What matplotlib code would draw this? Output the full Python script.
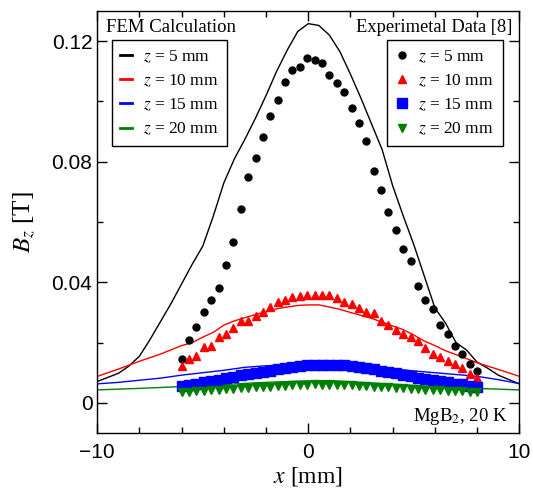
### FEM vs experimental Bz profiles
import matplotlib
matplotlib.use("Agg")
import matplotlib.pyplot as plt
import numpy as np

plt.rcParams['mathtext.fontset'] = 'stix'

### Experimental data (Ref. [8])
x_exp = [-6.00, -5.65, -5.30, -4.95, -4.60, -4.25, -3.90, -3.55, -3.20, -2.85,
         -2.50, -2.15, -1.80, -1.45, -1.10, -0.75, -0.40, -0.05, 0.30, 0.65,
         1.00, 1.35, 1.70, 2.05, 2.40, 2.75, 3.10, 3.45, 3.80, 4.15,
         4.50, 4.85, 5.20, 5.55, 5.90, 6.25, 6.60, 6.95, 7.30, 7.65, 8.00]

exp_z5 = [0.0146, 0.0208, 0.0251, 0.0301, 0.0341, 0.0382, 0.0457, 0.0534, 0.0643, 0.0748,
          0.0813, 0.0883, 0.0953, 0.1004, 0.1063, 0.1103, 0.1113, 0.1143, 0.1139, 0.1128,
          0.1089, 0.1061, 0.1032, 0.0978, 0.0927, 0.0869, 0.0770, 0.0707, 0.0632, 0.0574,
          0.0511, 0.0470, 0.0387, 0.0341, 0.0310, 0.0257, 0.0227, 0.0190, 0.0162, 0.0130, 0.0106]

exp_z10 = [0.0121, 0.0146, 0.0154, 0.0184, 0.0189, 0.0217, 0.0229, 0.0248, 0.0270, 0.0273,
           0.0289, 0.0303, 0.0318, 0.0333, 0.0340, 0.0351, 0.0353, 0.0359, 0.0359, 0.0359,
           0.0357, 0.0349, 0.0333, 0.0329, 0.0314, 0.0300, 0.0298, 0.0272, 0.0259, 0.0242,
           0.0229, 0.0217, 0.0204, 0.0182, 0.0163, 0.0153, 0.0139, 0.0128, 0.0117, 0.0095, 0.0084]

exp_z15 = [0.0056, 0.0060, 0.0064, 0.0068, 0.0072, 0.0077, 0.0082, 0.0087, 0.0092, 0.0097,
           0.0100, 0.0104, 0.0107, 0.0111, 0.0114, 0.0118, 0.0121, 0.0124, 0.0126, 0.0127,
           0.0127, 0.0127, 0.0125, 0.0122, 0.0119, 0.0115, 0.0111, 0.0107, 0.0102, 0.0098,
           0.0093, 0.0089, 0.0084, 0.0080, 0.0075, 0.0071, 0.0068, 0.0064, 0.0061, 0.0057, 0.0053]

exp_z20 = [0.0036, 0.0037, 0.0039, 0.0040, 0.0042, 0.0044, 0.0045, 0.0047, 0.0048, 0.0050,
           0.0051, 0.0053, 0.0054, 0.0055, 0.0057, 0.0058, 0.0059, 0.0060, 0.0061, 0.0060,
           0.0060, 0.0059, 0.0058, 0.0058, 0.0057, 0.0056, 0.0054, 0.0053, 0.0051, 0.0050,
           0.0048, 0.0047, 0.0046, 0.0044, 0.0043, 0.0042, 0.0040, 0.0039, 0.0038, 0.0036, 0.0035]

### FEM calculation
x_fem5 = [-10, -9, -8.5, -8, -7.5, -7, -6.5, -6, -5.5, -5, -4.5, -4, -3.5, -3, -2.5, -2,
          -1.5, -1, -0.5, 0, 0.5, 1, 1.5, 2, 2.5, 3, 3.5, 4, 4.5, 5, 5.5, 6, 6.5, 7,
          7.5, 8, 8.5, 9, 10]
fem_z5 = [0.0071, 0.0098, 0.0122, 0.0155, 0.0210, 0.0270, 0.0330, 0.0395, 0.0460, 0.0520,
          0.0620, 0.0730, 0.0810, 0.0875, 0.0945, 0.1020, 0.1100, 0.1170, 0.1232, 0.1258,
          0.1252, 0.1220, 0.1165, 0.1090, 0.1010, 0.0925, 0.0840, 0.0720, 0.0620, 0.0525,
          0.0420, 0.0315, 0.0265, 0.0200, 0.0175, 0.0135, 0.0115, 0.0092, 0.0063]

x_fem10 = [-10, -9, -8, -7, -6, -5.5, -5, -4.5, -4, -3.5, -3, -2.5, -2, -1.5, -1, -0.5,
           0, 0.5, 1, 1.5, 2, 2.5, 3, 3.5, 4, 4.5, 5, 5.5, 6, 6.5, 7, 7.5, 8, 9, 10]
fem_z10 = [0.0088, 0.0112, 0.0138, 0.0162, 0.0190, 0.0200, 0.0218, 0.0234, 0.0258, 0.0272,
           0.0283, 0.0293, 0.0302, 0.0312, 0.0318, 0.0323, 0.0325, 0.0325, 0.0318, 0.0310,
           0.0300, 0.0290, 0.0280, 0.0268, 0.0255, 0.0243, 0.0225, 0.0205, 0.0190, 0.0173,
           0.0160, 0.0147, 0.0133, 0.0111, 0.0088]

x_fem15 = [-10, -9, -8, -7, -6, -5, -4, -3, -2, -1, 0, 1, 2, 3, 4, 5, 6, 7, 8, 9, 10]
fem_z15 = [0.0063, 0.0068, 0.0075, 0.0082, 0.0092, 0.0100, 0.0108, 0.0118, 0.0123, 0.0127,
           0.0129, 0.0128, 0.0125, 0.0120, 0.0113, 0.0106, 0.0100, 0.0094, 0.0088, 0.0077, 0.0064]

x_fem20 = [-10, -8, -6, -4, -2, 0, 1, 2, 4, 6, 8, 10]
fem_z20 = [0.0043, 0.0048, 0.0054, 0.0061, 0.0068, 0.0073, 0.0074, 0.0070, 0.0062, 0.0054,
           0.0048, 0.0043]

labels = ["$z$ = 5 mm", "$z$ = 10 mm", "$z$ = 15 mm", "$z$ = 20 mm"]
colors = ["black", "red", "blue", "green"]

serif = "Liberation Serif"
sans = "Liberation Sans"

fig = plt.figure(figsize=(5.33, 4.93), dpi=100)
ax = fig.add_axes([0.1825, 0.1217, 0.7918, 0.856])

### FEM lines
fem_lines = []
for xf, yf, c, lab in zip([x_fem5, x_fem10, x_fem15, x_fem20],
                          [fem_z5, fem_z10, fem_z15, fem_z20], colors, labels):
    l, = ax.plot(xf, yf, "-", color=c, lw=1.0, label=lab)
    fem_lines.append(l)

### Experimental markers
exp_pts = []
p, = ax.plot(x_exp, exp_z5, "o", color="black", ms=5, ls="none", label=labels[0])
exp_pts.append(p)
p, = ax.plot(x_exp, exp_z10, "^", color="red", ms=6, ls="none", label=labels[1])
exp_pts.append(p)
p, = ax.plot(x_exp, exp_z15, "s", color="blue", ms=7, ls="none", label=labels[2])
exp_pts.append(p)
p, = ax.plot(x_exp, exp_z20, "v", color="green", ms=6, ls="none", label=labels[3])
exp_pts.append(p)

ax.set_xlim(-10, 10)
ax.set_ylim(-0.01, 0.13)
ax.set_xticks([-10, 0, 10])
ax.set_xticks(np.arange(-10, 11, 2), minor=True)
ax.set_yticks([0, 0.04, 0.08, 0.12])
ax.set_yticklabels(["0", "0.04", "0.08", "0.12"])
ax.set_yticks([0.02, 0.06, 0.10], minor=True)
ax.tick_params(which="both", direction="in", top=True, right=True, width=1)
ax.tick_params(which="major", length=7, labelsize=15)
ax.tick_params(axis="x", which="major", pad=7)
ax.tick_params(which="minor", length=4)
for lab in ax.get_xticklabels() + ax.get_yticklabels():
    lab.set_fontfamily(sans)
for s in ax.spines.values():
    s.set_linewidth(1)

ax.set_xlabel("$x$ [mm]", fontsize=17, family=serif, labelpad=2)
ax.set_ylabel("$B_z$ [T]", fontsize=18, family=serif, labelpad=10)

### Legends
leg_kw = dict(frameon=True, fancybox=False, framealpha=1,
              edgecolor="black", handlelength=0.7, handletextpad=0.6,
              labelspacing=0.45, borderpad=0.5, borderaxespad=0,
              prop={"family": serif, "size": 12.5})
leg1 = ax.legend(handles=fem_lines, loc="upper left",
                 bbox_to_anchor=(0.034, 0.931), **leg_kw)
leg1.get_frame().set_linewidth(1)
for ln in leg1.get_lines():
    ln.set_linewidth(2)
ax.add_artist(leg1)
leg2 = ax.legend(handles=exp_pts, loc="upper right",
                 bbox_to_anchor=(0.961, 0.931), **leg_kw)
leg2.get_frame().set_linewidth(1)

ax.text(0.021, 0.962, "FEM Calculation", transform=ax.transAxes, ha="left",
        va="center", fontsize=13.5, family=serif)
ax.text(0.984, 0.962, "Experimetal Data [8]", transform=ax.transAxes, ha="right",
        va="center", fontsize=13.3, family=serif)
ax.text(0.972, 0.04, "MgB$_2$, 20 K", transform=ax.transAxes, ha="right",
        va="center", fontsize=13.5, family=serif)

fig.savefig("out.png", dpi=100)
